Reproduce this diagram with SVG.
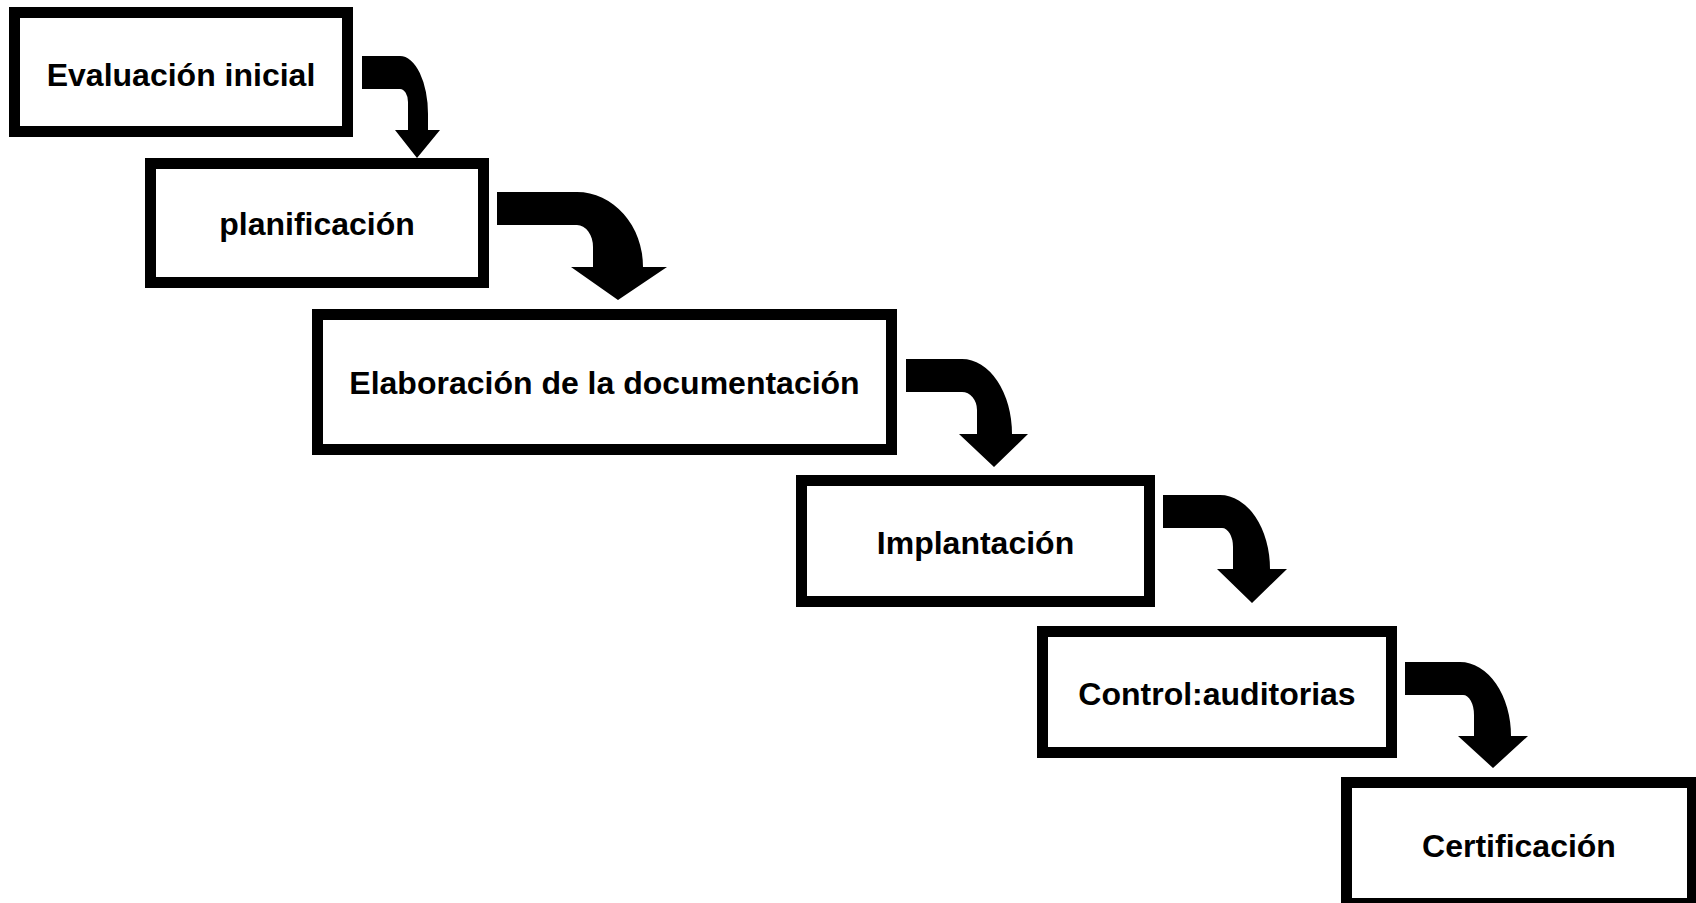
<svg xmlns="http://www.w3.org/2000/svg" width="1696" height="903" viewBox="0 0 1696 903">
<style>
.box{fill:#ffffff;stroke:#000000;stroke-width:11}
.lbl{font-family:"Liberation Sans",Arial,sans-serif;font-weight:bold;font-size:32px;fill:#000000;text-anchor:middle}
.arr{fill:#000000;stroke:none}
</style>
<rect x="0" y="0" width="1696" height="903" fill="#ffffff"/>
<g id="connectors">
<path class="arr" d="M362,56 H400 A28,58 0 0 1 428,114 V130 H440 L417,158 L395,130 H408 V102 A8,13 0 0 0 400,89 H362 Z"/>
<path class="arr" d="M497,192 H577 A66,75 0 0 1 643,267 H667 L618,300 L571,267 H593 V247 A16,22 0 0 0 577,225 H497 Z"/>
<path class="arr" d="M906,359 H962 A50,75 0 0 1 1012,434 H1028 L994,467 L959,434 H977 V410 A15,18 0 0 0 962,392 H906 Z"/>
<path class="arr" d="M1163,495 H1220 A50,74 0 0 1 1270,569 H1287 L1252,603 L1217,569 H1233 V547 A11,19 0 0 0 1222,528 H1163 Z"/>
<path class="arr" d="M1405,662 H1460 A51,74 0 0 1 1511,736 H1528 L1493,768 L1458,736 H1474 V715 A11,20 0 0 0 1463,695 H1405 Z"/>
</g>
<g id="node-evaluacion">
<rect class="box" x="14.5" y="12.5" width="333" height="119"/>
<text class="lbl" x="181" y="86">Evaluación inicial</text>
</g>
<g id="node-planificacion">
<rect class="box" x="150.5" y="163.5" width="333" height="119"/>
<text class="lbl" x="317" y="235">planificación</text>
</g>
<g id="node-elaboracion">
<rect class="box" x="317.5" y="314.5" width="574" height="135"/>
<text class="lbl" x="604.5" y="394">Elaboración de la documentación</text>
</g>
<g id="node-implantacion">
<rect class="box" x="801.5" y="480.5" width="348" height="121"/>
<text class="lbl" x="975.5" y="554">Implantación</text>
</g>
<g id="node-control">
<rect class="box" x="1042.5" y="631.5" width="349" height="121"/>
<text class="lbl" x="1217" y="705">Control:auditorias</text>
</g>
<g id="node-certificacion">
<rect class="box" x="1346.5" y="782.5" width="346" height="121"/>
<text class="lbl" x="1519" y="857">Certificación</text>
</g>
</svg>
